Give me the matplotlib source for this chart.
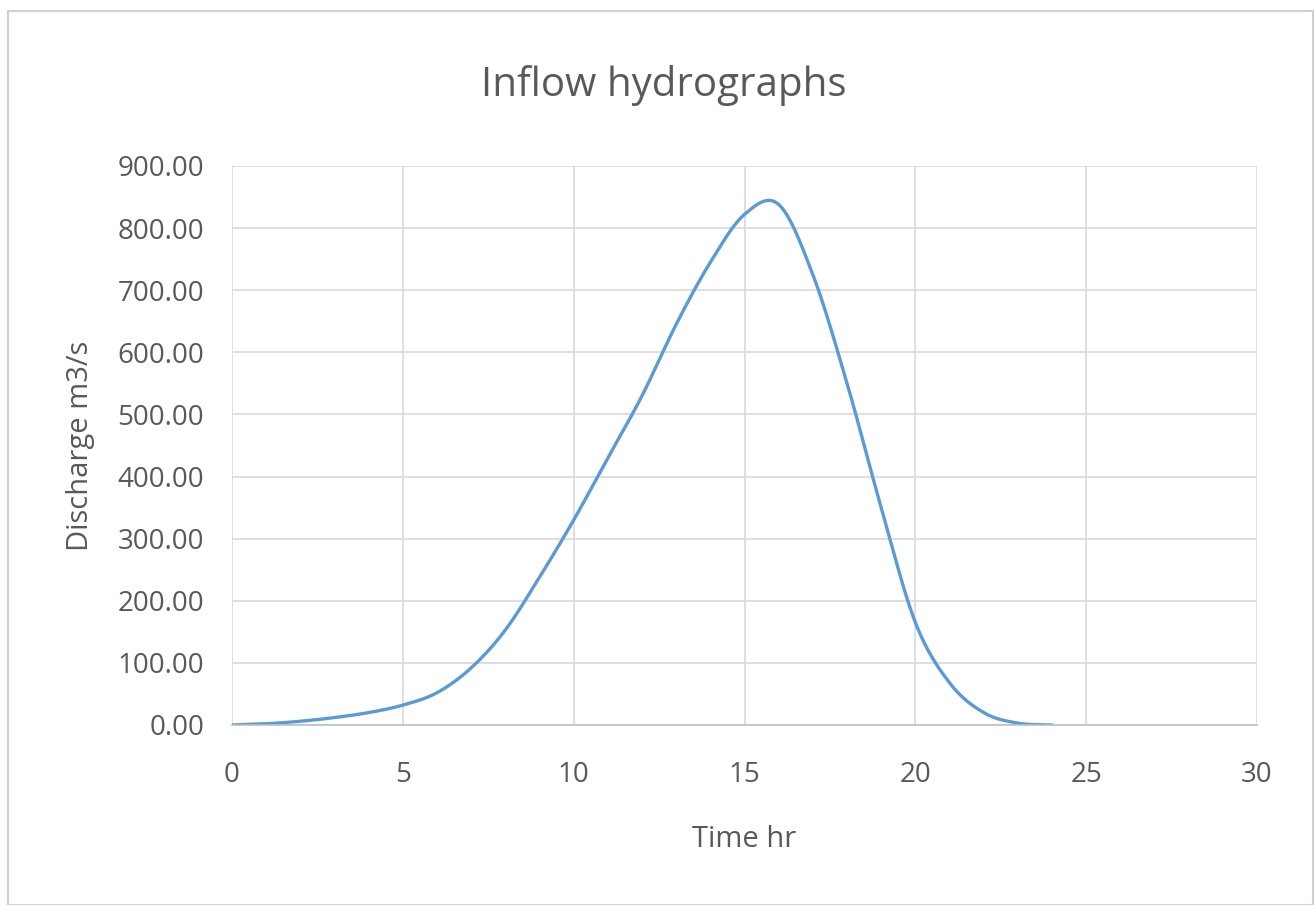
import numpy as np
import matplotlib.pyplot as plt
from matplotlib.patches import Rectangle

# inflow hydrograph readings
time_hr = [0, 1, 2, 3, 4, 5, 6, 7, 8, 9, 10, 11, 12, 13, 14, 15, 16,
           17, 18, 19, 20, 21, 22, 23, 24]
discharge = [0, 2, 6, 12, 20, 32, 52, 92, 153, 238, 330, 430, 530, 645,
             745, 822, 838, 725, 550, 350, 165, 68, 20, 3, 0]

x_ticks = [0, 5, 10, 15, 20, 25, 30]
y_ticks = [0, 100, 200, 300, 400, 500, 600, 700, 800, 900]


def smooth(x, y, n=30):
    # catmull-rom pass through the points, like a spreadsheet "smoothed line"
    x = np.asarray(x, float)
    y = np.asarray(y, float)
    px = np.concatenate([[x[0]], x, [x[-1]]])
    py = np.concatenate([[y[0]], y, [y[-1]]])
    xs, ys = [], []
    t = np.linspace(0, 1, n)
    for i in range(1, len(px) - 2):
        for p, out in ((px, xs), (py, ys)):
            p0, p1, p2, p3 = p[i - 1], p[i], p[i + 1], p[i + 2]
            out.extend(0.5 * (2 * p1 + (-p0 + p2) * t
                              + (2 * p0 - 5 * p1 + 4 * p2 - p3) * t ** 2
                              + (-p0 + 3 * p1 - 3 * p2 + p3) * t ** 3))
    return np.array(xs), np.array(ys)


plt.rcParams['font.family'] = ['Open Sans', 'DejaVu Sans']
text_col = '#595959'
grid_col = '#d9d9d9'

fig = plt.figure(figsize=(13.16, 9.05), dpi=100)
fig.patches.append(Rectangle((0.006, 0.0), 0.992, 0.988, transform=fig.transFigure,
                             fill=False, edgecolor='#d0d0d0', linewidth=1.5))
ax = fig.add_axes([0.1763, 0.1989, 0.7789, 0.6177])

sx, sy = smooth(time_hr, discharge)
ax.plot(sx, sy, color='#5b9bd5', linewidth=2.4, solid_capstyle='round')

ax.set_xlim(0, 30)
ax.set_ylim(0, 900)
ax.set_xticks(x_ticks)
ax.set_yticks(y_ticks)
ax.set_yticklabels([f'{v:.2f}' for v in y_ticks])
ax.grid(True, color=grid_col, linewidth=1.2)
ax.set_axisbelow(True)
for s in ('top', 'right', 'left'):
    ax.spines[s].set_visible(False)
ax.spines['bottom'].set_color('#bfbfbf')
ax.spines['bottom'].set_linewidth(1.2)
ax.tick_params(length=0, labelsize=20, colors=text_col)
ax.tick_params(axis='y', pad=20)
ax.tick_params(axis='x', pad=26)

ax.set_xlabel('Time hr', fontsize=21, color=text_col, labelpad=26)
ax.set_ylabel('Discharge m3/s', fontsize=21, color=text_col, labelpad=16)
fig.text(0.504, 0.906, 'Inflow hydrographs', fontsize=29, color=text_col,
         ha='center', va='center')

fig.savefig('out.png', dpi=100)
